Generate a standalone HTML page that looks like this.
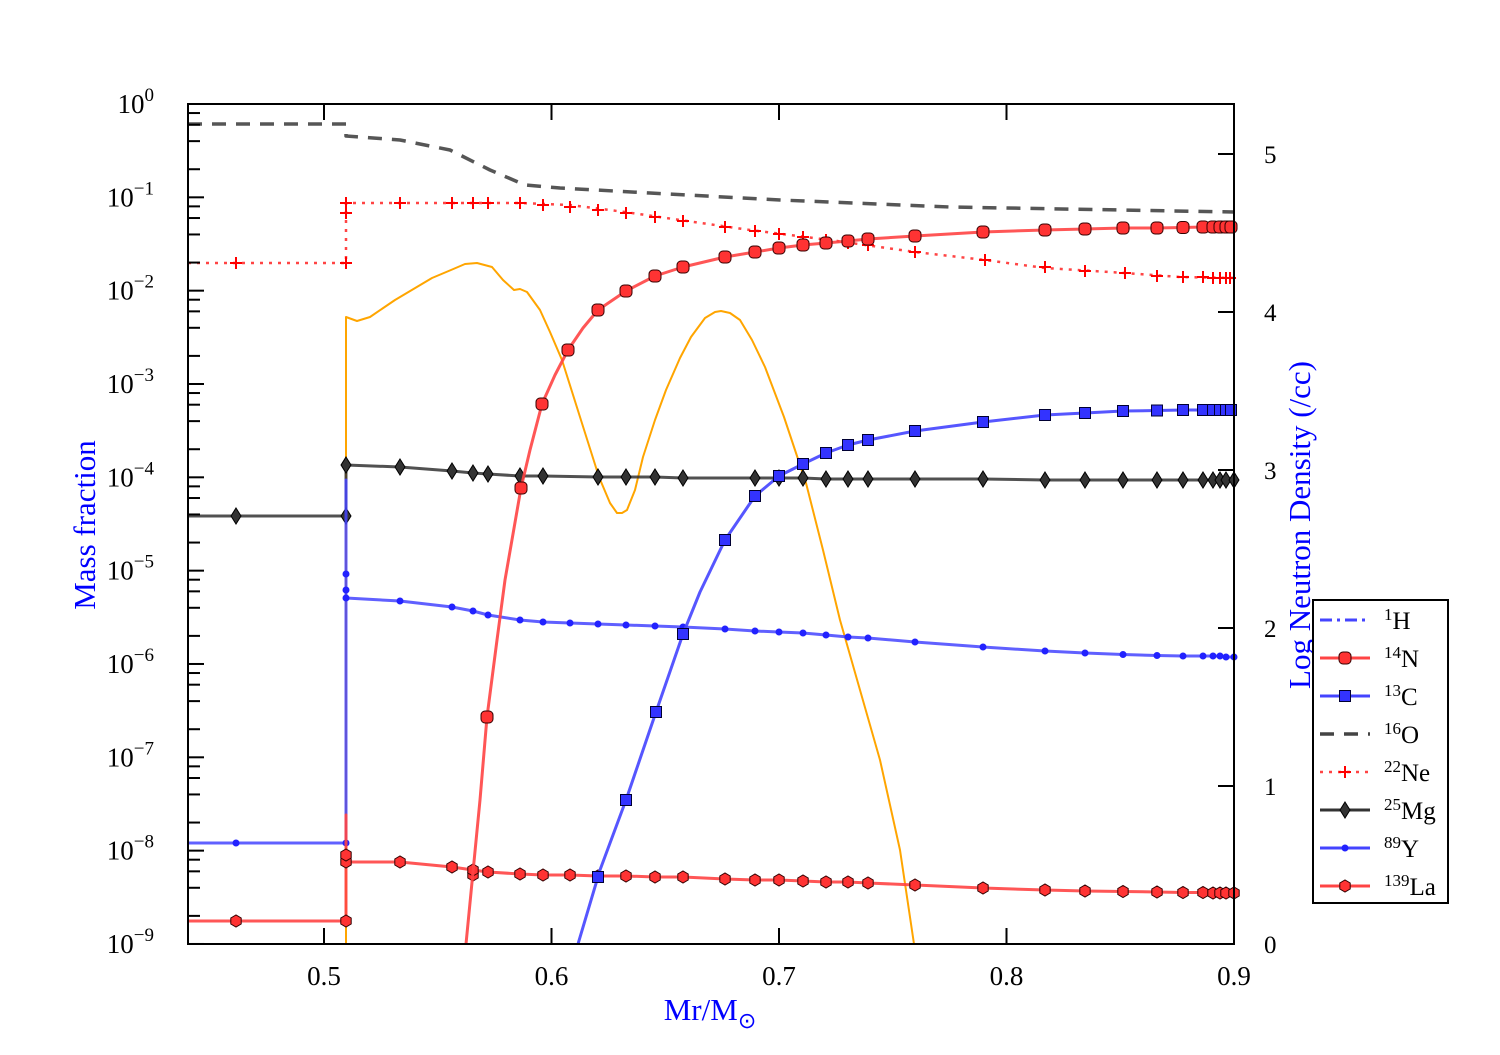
<!DOCTYPE html>
<html><head><meta charset="utf-8"><style>
body{margin:0;background:#fff}
svg text{font-family:"Liberation Serif",serif}
</style></head><body>
<svg id="s" width="1500" height="1050" xmlns="http://www.w3.org/2000/svg"></svg>
<script>
const S=document.getElementById('s');let h='';
const L=188,R=1234,T=104,B=944,dec=93.33;
function pl(p,st){return `<polyline fill="none" stroke-linejoin="round" points="${p.map(a=>a.join(',')).join(' ')}" ${st}/>`}
// orange
const ora=[[346,944],[346,317],[357,321],[370,317],[395,300],[432,278],[451,270],[465,264],[477,263],[492,267],[503,280],[514,290],[520,289],[527,292],[540,310],[550,332],[562,360],[580,417],[599,477],[610,503],[617,513],[622,513],[627,510],[635,490],[643,457],[655,420],[666,390],[680,358],[691,337],[705,318],[715,312],[721,311],[730,313],[740,320],[752,340],[765,367],[784,417],[806,483],[823,550],[840,620],[860,690],[880,760],[900,850],[914,944]];
h+=pl(ora,'stroke="orange" stroke-width="2"');
// O16
const o=[[188,124],[346,124],[346,136],[400,140],[450,150],[490,170],[525,185],[560,188],[650,193],[780,200],[950,207],[1234,212]];
h+=pl(o,'stroke="#444" stroke-width="3.5" stroke-dasharray="14,10" opacity="0.9"');
// Ne22
const ne=[[188,263],[346,263],[346,203],[520,203],[570,205],[625,212],[680,220],[750,230],[830,240],[915,252],[985,260],[1045,268],[1125,273],[1180,277],[1234,278]];
h+=pl(ne,'stroke="#f44" stroke-width="2.5" stroke-dasharray="3,6"');
const nem=[[236,263],[346,263],[346,213],[346,203],[400,203],[452,203],[473,203],[488,203],[520,203],[543,205],[570,207],[598,210],[626,213],[655,217],[683,221],[725,227],[755,231],[779,234],[803,237],[826,240],[848,243],[868,245],[915,252],[985,260],[1045,267],[1085,271],[1125,273],[1157,276],[1183,277],[1203,277],[1213,278],[1220,278],[1226,278],[1230,278]];
nem.forEach(([x,y])=>h+=`<path d="M${x-6},${y}h12M${x},${y-6}v12" stroke="red" stroke-width="2"/>`);
// Mg25
const mg=[[188,516],[346,516],[346,465],[400,467],[452,471],[473,473],[488,474],[520,476],[543,476],[598,477],[626,477],[655,477],[683,478],[755,478],[779,478],[803,478],[826,479],[848,479],[868,479],[915,479],[983,479],[1045,480],[1085,480],[1123,480],[1157,480],[1183,480],[1203,480],[1213,480],[1220,480],[1226,480],[1234,480]];
h+=pl(mg,'stroke="#333" stroke-width="3" opacity="0.85"');
[[236,516]].concat(mg.slice(1)).forEach(([x,y])=>h+=`<path d="M${x},${y-8}L${x+5},${y}L${x},${y+8}L${x-5},${y}Z" fill="#333" stroke="#000"/>`);
// Y89
const yy=[[188,843],[346,843],[346,480],[346,574],[346,590],[346,598],[400,601],[452,607],[473,611],[488,615],[520,620],[543,622],[570,623],[598,624],[626,625],[655,626],[683,627],[725,629],[755,631],[779,632],[803,633],[826,635],[848,637],[868,638],[915,642],[983,647],[1045,651],[1085,653],[1123,654.5],[1157,655.5],[1183,656],[1203,656],[1213,656],[1220,656],[1226,657],[1234,657]];
h+=pl(yy,'stroke="#44f" stroke-width="3" opacity="0.85"');
[[236,843]].concat(yy.slice(1)).filter(p=>p[1]!=480).forEach(([x,y])=>h+=`<circle cx="${x}" cy="${y}" r="3.5" fill="#22f"/>`);
// La139
const la=[[188,921],[346,921],[346,815],[346,862],[400,862],[452,867],[473,870],[488,872],[520,874],[543,875],[570,875],[598,876],[626,876],[655,877],[683,877],[725,879],[755,880],[779,880],[803,881],[826,882],[848,882],[868,883],[915,885],[983,888],[1045,890],[1085,891],[1123,891.5],[1157,892],[1183,892.5],[1203,892.5],[1213,893],[1220,893],[1226,893],[1234,893]];
h+=pl(la,'stroke="#f44" stroke-width="3" opacity="0.9"');
function hex(x,y){let p=[];for(let i=0;i<6;i++){let a=Math.PI/6+i*Math.PI/3;p.push((x+6*Math.cos(a)).toFixed(1)+','+(y+6*Math.sin(a)).toFixed(1))}return `<polygon points="${p.join(' ')}" fill="#f33" stroke="#300" stroke-width="1"/>`}
[[236,921],[346,921],[346,862],[346,855],[473,875]].concat(la.slice(4)).forEach(([x,y])=>h+=hex(x,y));
// N14
const n=[[466,944],[480,800],[487,717],[497,640],[505,580],[521,488],[530,450],[542,404],[555,375],[568,350],[583,328],[598,310],[626,291],[655,276],[683,267],[725,257],[755,252],[779,248],[803,245],[826,243],[848,241],[868,239],[915,236],[983,232],[1045,230],[1085,229],[1123,228],[1157,228],[1183,227.5],[1203,227],[1213,227],[1220,227],[1226,227],[1234,227]];
h+=pl(n,'stroke="#f44" stroke-width="3" opacity="0.9"');
[[487,717],[521,488],[542,404],[568,350],[598,310],[626,291],[655,276],[683,267],[725,257],[755,252],[779,248],[803,245],[826,243],[848,241],[868,239],[915,236],[983,232],[1045,230],[1085,229],[1123,228],[1157,228],[1183,227.5],[1203,227],[1213,227],[1220,227],[1226,227],[1231,227]].forEach(([x,y])=>h+=`<rect x="${x-6}" y="${y-6}" width="12" height="12" rx="4" fill="#f33" stroke="#300"/>`);
// C13
const c=[[578,944],[600,870],[626,800],[656,712],[683,634],[700,592],[725,540],[755,496],[779,476],[803,464],[826,453],[848,445],[868,440],[915,431],[983,422],[1045,415],[1085,413],[1123,411],[1157,410.5],[1183,410],[1234,410]];
h+=pl(c,'stroke="#44f" stroke-width="3" opacity="0.9"');
[[598,877],[626,800],[656,712],[683,634],[725,540],[755,496],[779,476],[803,464],[826,453],[848,445],[868,440],[915,431],[983,422],[1045,415],[1085,413],[1123,411],[1157,410.5],[1183,410],[1203,410],[1213,410],[1220,410],[1226,410],[1231,410]].forEach(([x,y])=>h+=`<rect x="${x-5.5}" y="${y-5.5}" width="11" height="11" fill="#33f" stroke="#003"/>`);
// frame
h+=`<rect x="${L}" y="${T}" width="${R-L}" height="${B-T}" fill="none" stroke="#000" stroke-width="2"/>`;
// log ticks
for(let d=0;d<=9;d++){let y=T+d*dec;h+=`<path d="M${L},${y}h16" stroke="#000" stroke-width="2"/>`;
 h+=`<text x="154" y="${y+9}" font-size="27" text-anchor="end">10<tspan dy="-12" font-size="19">${d?'−'+d:'0'}</tspan></text>`;
 if(d<9)[2,4,6,8].forEach(k=>{let yy=y+dec-dec*Math.log10(k);h+=`<path d="M${L},${yy}h12" stroke="#000" stroke-width="2"/>`})}
// x ticks
[0.5,0.6,0.7,0.8,0.9].forEach(v=>{let x=324+(v-0.5)*2275;h+=`<path d="M${x},${B}v-16M${x},${T}v16" stroke="#000" stroke-width="2"/><text x="${x}" y="985" font-size="27" text-anchor="middle">${v}</text>`});
// right ticks
for(let d=0;d<=5;d++){let y=944-158*d;h+=`<path d="M${R},${y}h-16" stroke="#000" stroke-width="2"/><text x="1264" y="${y+9}" font-size="25">${d}</text>`}
h+=`<text x="710" y="1020" font-size="31" fill="#00f" text-anchor="middle">Mr/M<tspan dy="8" font-size="22">⊙</tspan></text>`;
h+=`<text transform="translate(95,525) rotate(-90)" font-size="31" fill="#00f" text-anchor="middle">Mass fraction</text>`;
h+=`<text transform="translate(1310,525) rotate(-90)" font-size="31" fill="#00f" text-anchor="middle">Log Neutron Density (/cc)</text>`;
// legend
h+=`<rect x="1313" y="600" width="135" height="303" fill="#fff" stroke="#000" stroke-width="2"/>`;
const lg=[['1','H'],['14','N'],['13','C'],['16','O'],['22','Ne'],['25','Mg'],['89','Y'],['139','La']];
lg.forEach((e,i)=>{let y=620+i*38;let lx=1320,rx=1370,cx=1345;
 if(i==0)h+=`<path d="M${lx},${y}H${rx}" stroke="#44f" stroke-width="3" stroke-dasharray="12,5,3,5"/>`;
 if(i==1)h+=`<path d="M${lx},${y}H${rx}" stroke="#f44" stroke-width="3"/><rect x="${cx-6}" y="${y-6}" width="12" height="12" rx="4" fill="#f33" stroke="#300"/>`;
 if(i==2)h+=`<path d="M${lx},${y}H${rx}" stroke="#44f" stroke-width="3"/><rect x="${cx-5.5}" y="${y-5.5}" width="11" height="11" fill="#33f" stroke="#003"/>`;
 if(i==3)h+=`<path d="M${lx},${y}H${rx}" stroke="#444" stroke-width="3.5" stroke-dasharray="14,10"/>`;
 if(i==4)h+=`<path d="M${lx},${y}H${rx}" stroke="#f44" stroke-width="2.5" stroke-dasharray="3,6"/><path d="M${cx-6},${y}h12M${cx},${y-6}v12" stroke="red" stroke-width="2"/>`;
 if(i==5)h+=`<path d="M${lx},${y}H${rx}" stroke="#333" stroke-width="3"/><path d="M${cx},${y-8}L${cx+5},${y}L${cx},${y+8}L${cx-5},${y}Z" fill="#333" stroke="#000"/>`;
 if(i==6)h+=`<path d="M${lx},${y}H${rx}" stroke="#44f" stroke-width="3"/><circle cx="${cx}" cy="${y}" r="3.5" fill="#22f"/>`;
 if(i==7)h+=`<path d="M${lx},${y}H${rx}" stroke="#f44" stroke-width="3"/>`+hex(cx,y);
 h+=`<text x="1384" y="${y+9}" font-size="25"><tspan dy="-9" font-size="17">${e[0]}</tspan><tspan dy="9">${e[1]}</tspan></text>`;});
S.innerHTML=h;
</script>
</body></html>
